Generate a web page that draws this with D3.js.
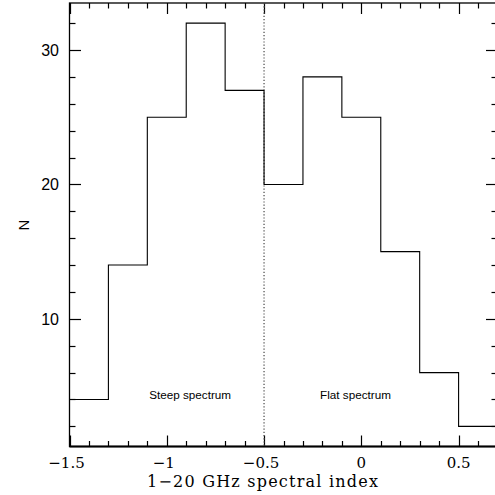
<!DOCTYPE html>
<html>
<head>
<meta charset="utf-8">
<script src="https://cdn.jsdelivr.net/npm/d3@7"></script>
<style>
  html, body { margin: 0; padding: 0; background: #fff; }
  svg { display: block; }
</style>
</head>
<body>
<svg id="chart" width="495" height="495"></svg>
<script>
// Histogram bin edges (spectral index) and counts per bin
const binEdges = [-1.5, -1.3, -1.1, -0.9, -0.7, -0.5, -0.3, -0.1, 0.1, 0.3, 0.5, 0.7];
const counts = [4, 14, 25, 32, 27, 20, 28, 25, 15, 6, 2];
const xTickLabels = [-1.5, -1, -0.5, 0, 0.5];
const yTickLabels = [10, 20, 30];
const divider = -0.5;
const regionLabels = ["Steep spectrum", "Flat spectrum"];
const regionCenters = [-0.88, -0.03];

const svg = d3.select("#chart");
const plotLeft = 69.5, plotRight = 497.5, plotTop = 3, plotBottom = 446.5;

const x = d3.scaleLinear().domain([-1.5, 0.7]).range([plotLeft, plotRight]);
const y = d3.scaleLinear().domain([0.5, 33.5]).range([plotBottom, plotTop]);

// Frame
svg.append("rect")
  .attr("x", plotLeft).attr("y", plotTop)
  .attr("width", plotRight - plotLeft).attr("height", plotBottom - plotTop)
  .attr("fill", "none").attr("stroke", "#000").attr("stroke-width", 1.3);
svg.append("line")
  .attr("x1", plotLeft).attr("x2", plotRight).attr("y1", plotBottom).attr("y2", plotBottom)
  .attr("stroke", "#000").attr("stroke-width", 2);

// Ticks on all four sides, pointing inward
const xMinor = d3.range(-15, 8).map(d => d / 10);
const yMinor = d3.range(2, 34, 2);
const isMajorX = v => Math.abs(v * 2 - Math.round(v * 2)) < 1e-9;
const isMajorY = v => v % 10 === 0;

const tickG = svg.append("g").attr("stroke", "#000").attr("stroke-width", 1.2);
xMinor.forEach(v => {
  const len = isMajorX(v) ? 11 : 5.5;
  const px = Math.round(x(v)) + 0.5;
  tickG.append("line").attr("x1", px).attr("x2", px).attr("y1", plotBottom).attr("y2", plotBottom - len);
  tickG.append("line").attr("x1", px).attr("x2", px).attr("y1", plotTop).attr("y2", plotTop + len);
});
yMinor.forEach(v => {
  const len = isMajorY(v) ? 11.5 : 6;
  const py = Math.round(y(v)) + 0.5;
  tickG.append("line").attr("x1", plotLeft).attr("x2", plotLeft + len).attr("y1", py).attr("y2", py);
  tickG.append("line").attr("x1", plotRight).attr("x2", plotRight - len).attr("y1", py).attr("y2", py);
});

// Tick labels
const fmtX = v => (v < 0 ? "\u2212" : "") + Math.abs(v);
svg.append("g").selectAll("text").data(xTickLabels).join("text")
  .attr("x", d => x(d) + (d < 0 ? -3 : 0))
  .attr("y", 468)
  .attr("text-anchor", "middle")
  .attr("font-family", "DejaVu Serif, Liberation Serif, serif")
  .attr("font-size", 15)
  .attr("fill", "#000")
  .text(fmtX);

svg.append("g").selectAll("text").data(yTickLabels).join("text")
  .attr("x", 59)
  .attr("y", d => y(d) + 6)
  .attr("text-anchor", "end")
  .attr("font-family", "Liberation Sans, Arial, sans-serif")
  .attr("font-size", 16)
  .attr("fill", "#000")
  .text(d => d);

// Axis titles
svg.append("text")
  .attr("x", 147)
  .attr("y", 487)
  .attr("textLength", 231)
  .attr("lengthAdjust", "spacing")
  .attr("font-family", "DejaVu Serif, Liberation Serif, serif")
  .attr("font-size", 16)
  .attr("fill", "#000")
  .text("1\u221220 GHz spectral index");

svg.append("text")
  .attr("transform", "translate(29,225) rotate(-90)")
  .attr("text-anchor", "middle")
  .attr("font-family", "Liberation Sans, Arial, sans-serif")
  .attr("font-size", 15)
  .attr("fill", "#000")
  .text("N");

// Dividing line between steep and flat spectra
svg.append("line")
  .attr("x1", x(divider)).attr("x2", x(divider))
  .attr("y1", plotTop).attr("y2", plotBottom)
  .attr("stroke", "#555").attr("stroke-width", 1.3)
  .attr("stroke-dasharray", "1.2,2");

// Step histogram outline
const pts = [];
counts.forEach((c, i) => {
  pts.push([x(binEdges[i]), y(c)]);
  pts.push([x(binEdges[i + 1]), y(c)]);
});
svg.append("path")
  .attr("d", d3.line()(pts))
  .attr("fill", "none")
  .attr("stroke", "#000")
  .attr("stroke-width", 1.1);

// Region labels
svg.append("g").selectAll("text").data(regionLabels).join("text")
  .attr("x", (d, i) => x(regionCenters[i]))
  .attr("y", 399)
  .attr("text-anchor", "middle")
  .attr("font-family", "Liberation Sans, Arial, sans-serif")
  .attr("font-size", 11.7)
  .attr("fill", "#000")
  .text(d => d);
</script>
</body>
</html>
